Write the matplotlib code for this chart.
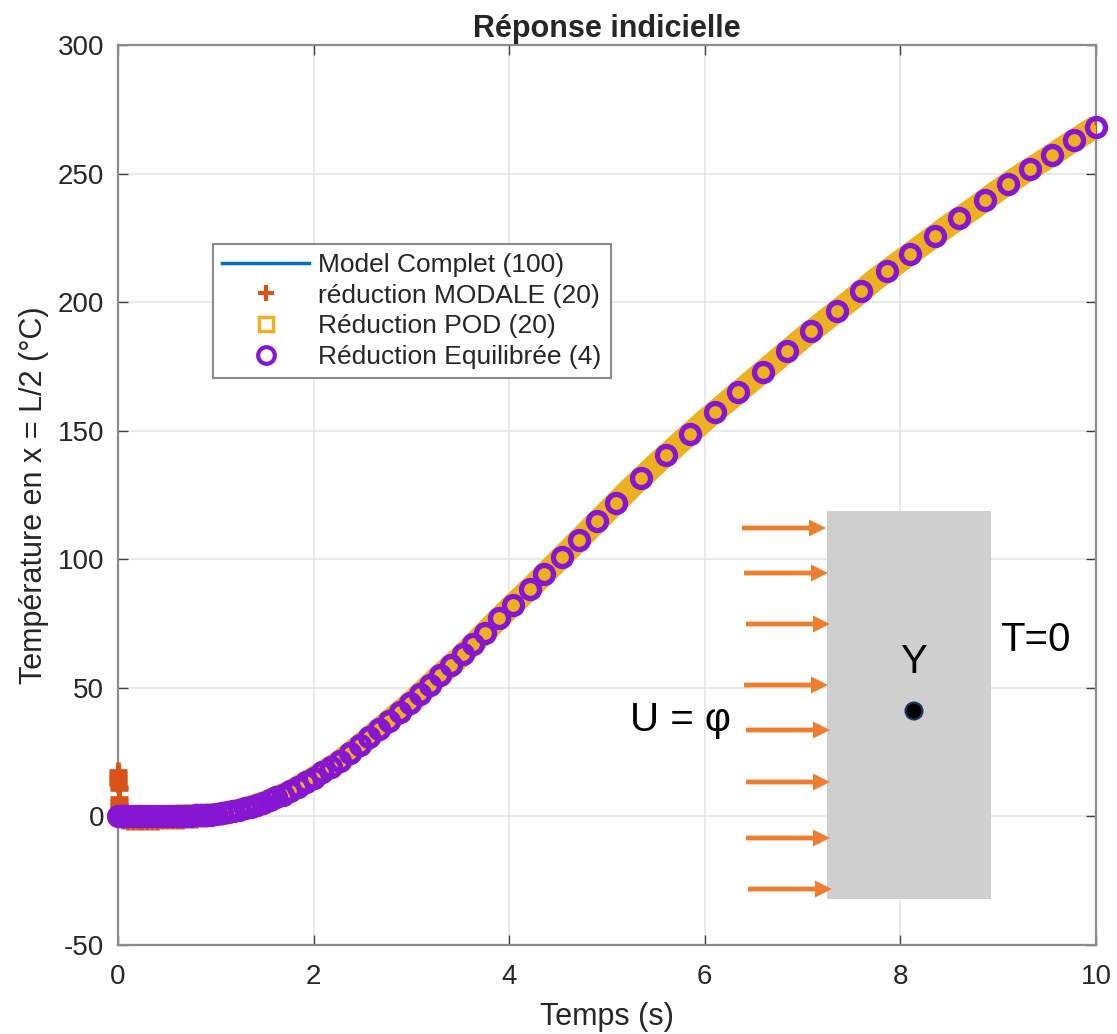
"""
Step response of the reduced thermal models (Réponse indicielle).
"""

import matplotlib
matplotlib.use('Agg')
import matplotlib.pyplot as plt
from matplotlib.lines import Line2D
from matplotlib.patches import Rectangle, FancyArrow, Circle

plt.rcParams['font.family'] = ['Liberation Sans', 'DejaVu Sans']
plt.rcParams['axes.unicode_minus'] = False

# reference curve (full model / POD band)
t_ref = [0, 0.5, 1.0, 1.25, 1.5, 1.75, 2.0, 2.25, 2.5, 2.75, 3.0, 3.25, 3.5,
         3.75, 4.0, 4.25, 4.5, 4.75, 5.0, 5.25, 5.5, 5.75, 6.0, 6.25, 6.5,
         6.75, 7.0, 7.25, 7.5, 7.75, 8.0, 8.25, 8.5, 8.75, 9.0, 9.25, 9.5,
         9.75, 10.0]
temp_full = [0, 0, 0.8, 2.5, 5.5, 9.5, 15, 21, 28.5, 36.5, 44.5, 53.5, 62,
             71.5, 81, 90, 99.5, 109, 118.5, 128, 137, 145.5, 154, 162, 170,
             178, 186, 193.5, 201, 209, 216, 223, 230, 236.5, 243.5, 250, 256,
             262.3, 268.3]
temp_pod = temp_full

# modal reduction: overshoot at t=0, slightly negative afterwards
t_modal = [0, 0.001, 0.002, 0.003, 0.004, 0.005, 0.006, 0.007, 0.009, 0.010,
           0.011, 0.012, 0.013, 0.014, 0.016, 0.05, 0.1, 0.15, 0.2, 0.25,
           0.3, 0.35, 0.4, 0.45, 0.5, 0.55, 0.6, 0.65, 0.7, 0.75, 0.8, 0.85,
           0.9, 0.95, 1.0, 1.05, 1.1, 1.15, 1.2, 1.25, 1.3, 1.35, 1.4, 1.5,
           1.75, 2.0, 2.5, 3.0, 3.5, 4.0, 5.0, 6.0, 7.0, 8.0, 9.0, 10.0]
temp_modal = [17.5, 16.5, 15.5, 14.5, 13.5, 12.5, 11.5, 10.5, 7.0, 6.0, 5.0,
              4.0, 3.0, 2.0, 1.0, -1.5, -1.6, -1.6, -1.6, -1.6, -1.6, -1.6,
              -1.6, -1.5, -1.5, -1.4, -1.3, -1.2, -1.1, -1.0, -0.9, -0.7,
              -0.5, -0.3, 0.0, 0.3, 0.6, 1.0, 1.4, 2.0, 2.6, 3.2, 3.8, 5.5,
              9.5, 15, 28.5, 44.5, 62, 81, 118.5, 154, 186, 216, 243.5, 268.3]
n_overshoot = 15  # first samples, forming the spike at t=0

# balanced reduction (4): adaptive time steps
t_eq = [0, 0.02, 0.04, 0.06, 0.08, 0.10, 0.13, 0.16, 0.19, 0.22, 0.26, 0.30,
        0.34, 0.38, 0.42, 0.46, 0.50, 0.55, 0.60, 0.65, 0.70, 0.75, 0.80,
        0.85, 0.90, 0.95, 1.00, 1.06, 1.12, 1.18, 1.24, 1.30, 1.36, 1.42,
        1.48, 1.55, 1.62, 1.69, 1.76, 1.84, 1.92, 2.00, 2.09, 2.18, 2.27,
        2.37, 2.47, 2.57, 2.67, 2.77, 2.88, 2.99, 3.09, 3.19, 3.29, 3.41,
        3.53, 3.63, 3.75, 3.90, 4.04, 4.21, 4.36, 4.54, 4.71, 4.90, 5.09,
        5.35, 5.60, 5.85, 6.10, 6.34, 6.59, 6.84, 7.09, 7.35, 7.60, 7.86,
        8.10, 8.35, 8.60, 8.86, 9.10, 9.33, 9.55, 9.78, 10.0]
temp_eq = [0, 0, 0, 0, 0, 0, 0, 0, 0, 0, 0, 0, 0, 0, 0, 0, 0, 0.05, 0.1, 0.15,
           0.2, 0.3, 0.4, 0.5, 0.6, 0.7, 0.8, 1.2, 1.6, 2.0, 2.4, 3.1, 3.8,
           4.5, 5.2, 6.2, 7.4, 8.5, 9.7, 11.4, 13.2, 15.0, 17.1, 19.3, 21.5,
           24.6, 27.6, 30.7, 33.9, 37.1, 40.7, 44.2, 47.7, 51.3, 54.9, 58.9,
           63.1, 66.9, 71.5, 77.2, 82.4, 88.6, 94.2, 101.0, 107.5, 114.7,
           121.9, 131.6, 140.4, 148.9, 157.2, 164.9, 172.9, 180.9, 188.7,
           196.5, 204.2, 212.1, 218.8, 225.8, 232.6, 239.6, 246.1, 251.9,
           257.3, 263.0, 268.3]

labels = ['Model Complet (100)', 'réduction MODALE (20)',
          'Réduction POD (20)', 'Réduction Equilibrée (4)']

C_FULL, C_MODAL, C_POD, C_EQ = '#0072BD', '#D95319', '#EDB120', '#8716D2'
TXT = '#262626'

fig = plt.figure(figsize=(11.17, 10.34), dpi=100)
ax = fig.add_axes([118 / 1117, 1 - 945 / 1034, 978 / 1117, 900 / 1034])

ax.plot(t_ref, temp_full, color=C_FULL, lw=2, zorder=2)
# MATLAB does not clip markers at the axes edge
modal_style = dict(ls='none', marker='+', ms=13.5, mew=3.4, color=C_MODAL,
                   zorder=3)
ax.plot(t_modal[:n_overshoot], temp_modal[:n_overshoot], clip_on=False,
        **modal_style)
ax.plot(t_modal[n_overshoot:], temp_modal[n_overshoot:], **modal_style)
# POD squares are so dense they merge into a thick band
ax.plot(t_ref, temp_pod, color=C_POD, lw=16.5, solid_capstyle='butt', zorder=4)
ax.plot(t_eq, temp_eq, ls='none', marker='o', ms=13, mew=3.8,
        mfc='none', mec=C_EQ, zorder=5, clip_on=False)

ax.set_xlim(0, 10)
ax.set_ylim(-50, 300)
ax.set_xticks(range(0, 11, 2))
ax.set_yticks(range(-50, 301, 50))
ax.grid(True, color='#E3E3E3', lw=1.1, zorder=0)
ax.set_axisbelow(True)
ax.tick_params(direction='in', length=7, width=1, top=True, right=True,
               labelsize=20, colors='#404040', labelcolor=TXT)
ax.tick_params(axis='x', pad=14)
ax.tick_params(axis='y', pad=10)
for s in ax.spines.values():
    s.set_color('#8C8C8C')
    s.set_linewidth(1.6)

ax.set_xlabel('Temps (s)', fontsize=22, color=TXT, labelpad=8)
ax.set_ylabel('Température en x = L/2 (°C)', fontsize=22, color=TXT, labelpad=6)
ax.set_title('Réponse indicielle', fontsize=22, fontweight='bold', color=TXT,
             pad=6)

handles = [
    Line2D([], [], color=C_FULL, lw=2.5),
    Line2D([], [], ls='none', marker='+', ms=11, mew=3, color=C_MODAL),
    Line2D([], [], ls='none', marker='s', ms=10, mew=2.5, mfc='none', mec=C_POD),
    Line2D([], [], ls='none', marker='o', ms=12, mew=3, mfc='none', mec=C_EQ),
]
leg = ax.legend(handles, labels, loc='upper left', bbox_to_anchor=(0.097, 0.779),
                borderaxespad=0, fontsize=19, handlelength=3.3,
                handletextpad=0.35, labelspacing=0.25, borderpad=0.35,
                fancybox=False, framealpha=1, edgecolor='#8C8C8C')
leg.get_frame().set_linewidth(1.5)
for txt in leg.get_texts():
    txt.set_color(TXT)

# schematic of the slab, drawn in pixel coordinates on an overlay
ov = fig.add_axes([0, 0, 1, 1], zorder=10)
ov.set_xlim(0, 1117)
ov.set_ylim(1034, 0)
ov.axis('off')

ov.add_patch(Rectangle((827, 511), 164, 388, facecolor='#D0CFD0',
                       edgecolor='none'))
arrow_y = [528, 573, 624, 685, 730, 782, 838, 889]
arrow_x0 = [742, 744, 746, 744, 746, 746, 746, 748]
for y, x0 in zip(arrow_y, arrow_x0):
    ov.add_patch(FancyArrow(x0, y, 84, 0, width=4.8, head_width=17,
                            head_length=17, length_includes_head=True,
                            color='#ED7D31', lw=0))
ov.add_patch(Circle((914, 711), 8.5, facecolor='black', edgecolor='#1F3864',
                    lw=1.5))
ov.text(914, 662, 'Y', fontsize=29, ha='center', va='center', color='black')
ov.text(1035, 640, 'T=0', fontsize=29, ha='center', va='center', color='black')
ov.text(681, 720, 'U = φ', fontsize=29, ha='center', va='center', color='black')

fig.savefig('out.png', dpi=100)
